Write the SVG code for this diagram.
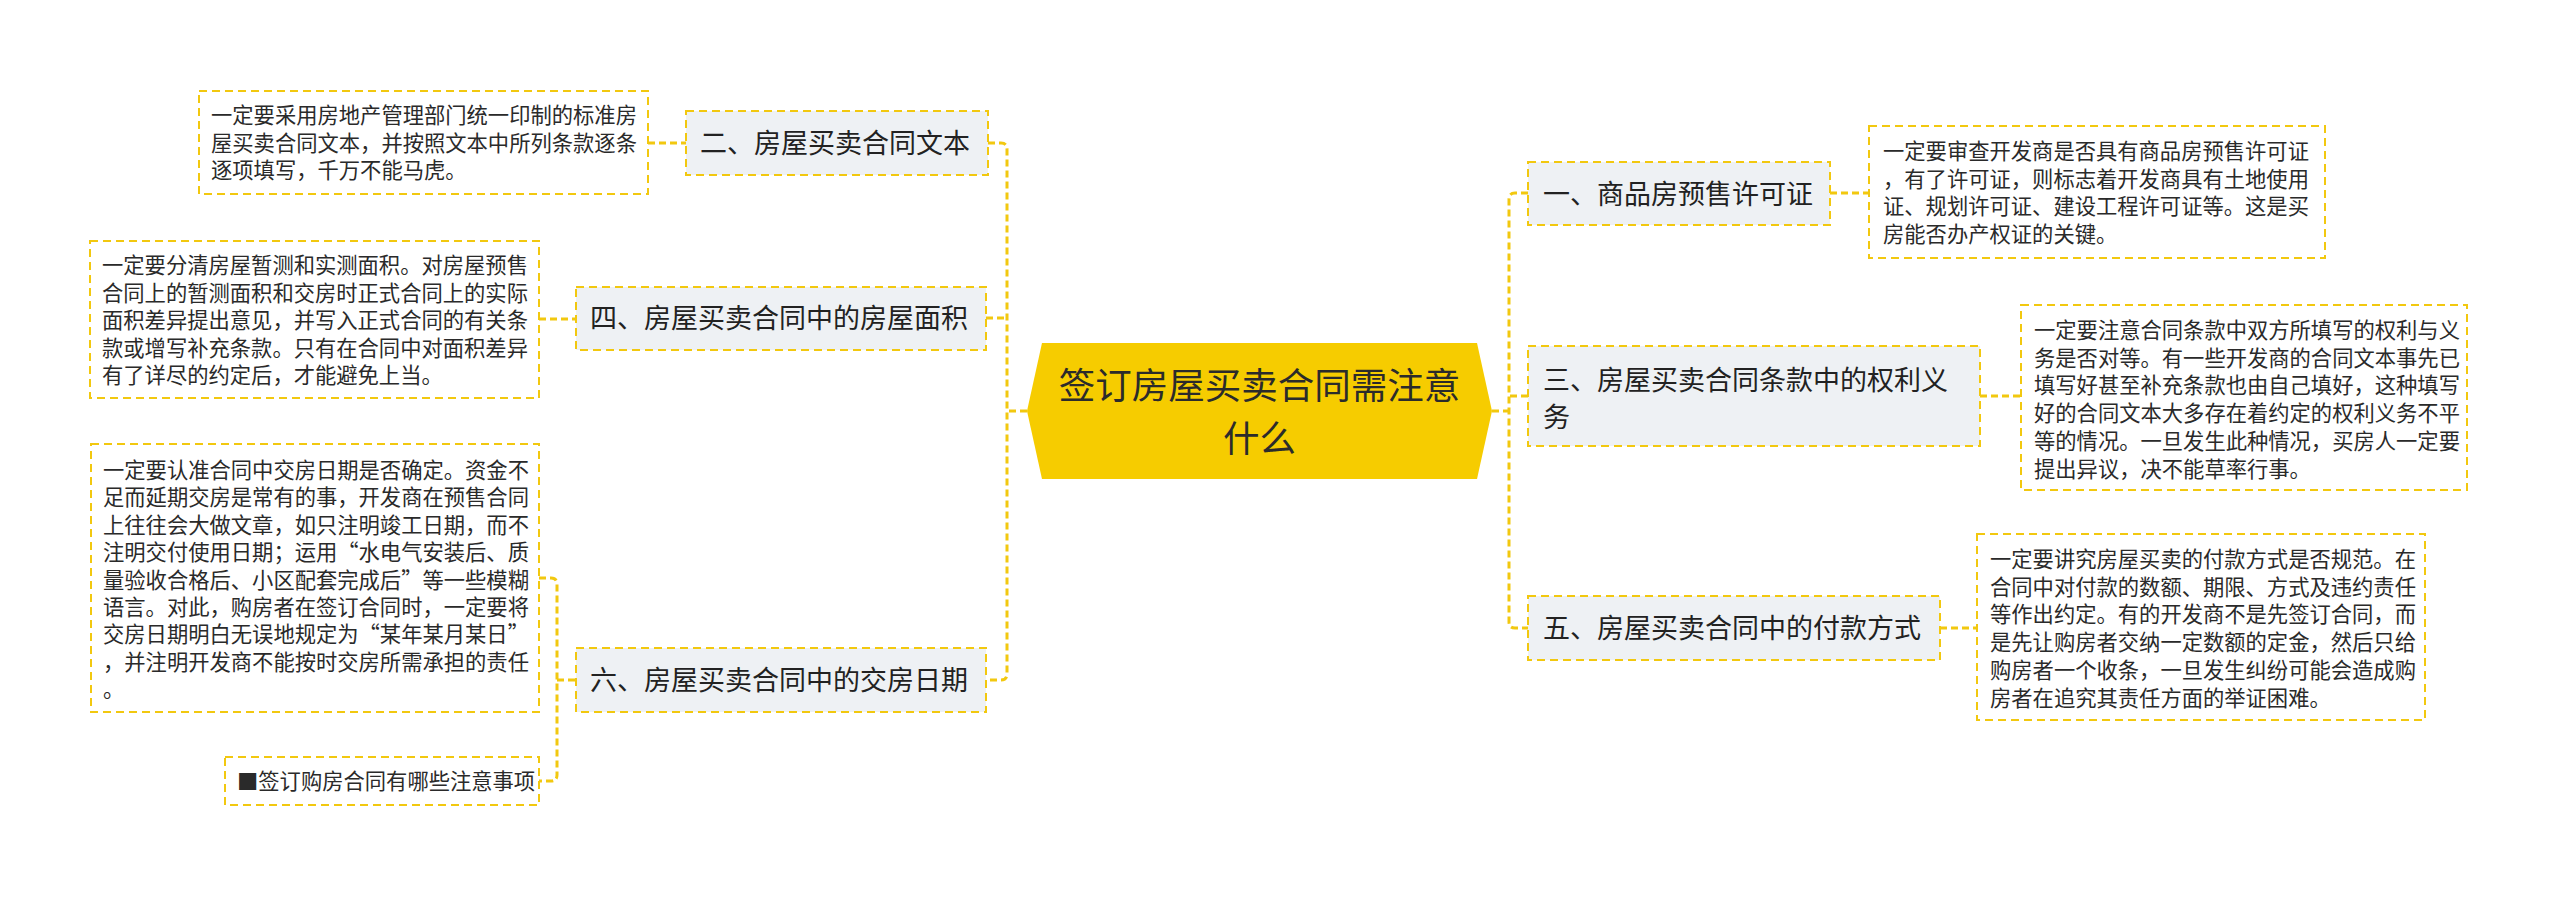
<svg xmlns="http://www.w3.org/2000/svg" width="2560" height="897" viewBox="0 0 2560 897">
<style>
.conn{fill:none;stroke:#f2c80f;stroke-width:3;stroke-dasharray:7 4}
.node rect{fill:#eef1f4;stroke:#f2c80f;stroke-width:2;stroke-dasharray:8 5}
.leaf rect{fill:#ffffff;stroke:#f2c80f;stroke-width:2;stroke-dasharray:8 5}
.nt{font-family:"Noto Sans CJK SC","Noto Sans",sans-serif;font-size:27px;fill:#222}
.lt{font-family:"Noto Sans CJK SC","Noto Sans",sans-serif;font-size:21.3px;fill:#2a2a2a}
.ct{font-family:"Noto Sans CJK SC","Noto Sans",sans-serif;font-size:36.5px;fill:#2b2b2b;text-anchor:middle}
</style>
<rect width="2560" height="897" fill="#ffffff"/>
<g id="connectors">
<path class="conn" d="M1027 411 H1007"/>
<path class="conn" d="M988 143 H1001 Q1007 143 1007 149 V674 Q1007 680 1001 680 H988"/>
<path class="conn" d="M986 318 H1007"/>
<path class="conn" d="M1492 411 H1509"/>
<path class="conn" d="M1528 193 H1515 Q1509 193 1509 199 V622 Q1509 628 1515 628 H1528"/>
<path class="conn" d="M1528 396 H1509"/>
<path class="conn" d="M648 143 H686"/>
<path class="conn" d="M539 319 H576"/>
<path class="conn" d="M539 578 H551 Q557 578 557 584 V775 Q557 781 551 781 H539"/>
<path class="conn" d="M557 680 H576"/>
<path class="conn" d="M1830 193 H1869"/>
<path class="conn" d="M1980 396 H2021"/>
<path class="conn" d="M1940 628 H1977"/>
</g>
<g id="center">
<polygon points="1027,411 1042,343 1477,343 1492,411 1477,479 1042,479" fill="#f6cc00"/>
<text class="ct" x="1259.5" y="399">签订房屋买卖合同需注意</text>
<text class="ct" x="1259.5" y="452">什么</text>
</g>
<g id="node-2" class="node">
<rect x="686" y="111" width="302" height="64"/>
<text class="nt" x="700" y="153">二、房屋买卖合同文本</text>
</g>
<g id="leaf-2" class="leaf">
<rect x="199" y="91" width="449" height="103"/>
<text class="lt" x="211" y="123">一定要采用房地产管理部门统一印制的标准房</text>
<text class="lt" x="211" y="150.5">屋买卖合同文本，并按照文本中所列条款逐条</text>
<text class="lt" x="211" y="178">逐项填写，千万不能马虎。</text>
</g>
<g id="node-4" class="node">
<rect x="576" y="287" width="410" height="63"/>
<text class="nt" x="590" y="328">四、房屋买卖合同中的房屋面积</text>
</g>
<g id="leaf-4" class="leaf">
<rect x="90" y="241" width="449" height="157"/>
<text class="lt" x="102" y="273">一定要分清房屋暂测和实测面积。对房屋预售</text>
<text class="lt" x="102" y="300.5">合同上的暂测面积和交房时正式合同上的实际</text>
<text class="lt" x="102" y="328">面积差异提出意见，并写入正式合同的有关条</text>
<text class="lt" x="102" y="355.5">款或增写补充条款。只有在合同中对面积差异</text>
<text class="lt" x="102" y="383">有了详尽的约定后，才能避免上当。</text>
</g>
<g id="node-6" class="node">
<rect x="576" y="648" width="410" height="64"/>
<text class="nt" x="590" y="690">六、房屋买卖合同中的交房日期</text>
</g>
<g id="leaf-6" class="leaf">
<rect x="91" y="444" width="448" height="268"/>
<text class="lt" x="103" y="478">一定要认准合同中交房日期是否确定。资金不</text>
<text class="lt" x="103" y="505.4">足而延期交房是常有的事，开发商在预售合同</text>
<text class="lt" x="103" y="532.8">上往往会大做文章，如只注明竣工日期，而不</text>
<text class="lt" x="103" y="560.2">注明交付使用日期；运用“水电气安装后、质</text>
<text class="lt" x="103" y="587.6">量验收合格后、小区配套完成后”等一些模糊</text>
<text class="lt" x="103" y="615">语言。对此，购房者在签订合同时，一定要将</text>
<text class="lt" x="103" y="642.4">交房日期明白无误地规定为“某年某月某日”</text>
<text class="lt" x="103" y="669.8">，并注明开发商不能按时交房所需承担的责任</text>
<text class="lt" x="103" y="697.2">。</text>
</g>
<g id="leaf-6b" class="leaf">
<rect x="225" y="757" width="314" height="48"/>
<text class="lt" x="237" y="789">■签订购房合同有哪些注意事项</text>
</g>
<g id="node-1" class="node">
<rect x="1528" y="162" width="302" height="63"/>
<text class="nt" x="1543" y="204">一、商品房预售许可证</text>
</g>
<g id="leaf-1" class="leaf">
<rect x="1869" y="126" width="456" height="132"/>
<text class="lt" x="1883" y="159">一定要审查开发商是否具有商品房预售许可证</text>
<text class="lt" x="1883" y="186.7">，有了许可证，则标志着开发商具有土地使用</text>
<text class="lt" x="1883" y="214.4">证、规划许可证、建设工程许可证等。这是买</text>
<text class="lt" x="1883" y="242.1">房能否办产权证的关键。</text>
</g>
<g id="node-3" class="node">
<rect x="1528" y="346" width="452" height="100"/>
<text class="nt" x="1543" y="390">三、房屋买卖合同条款中的权利义</text>
<text class="nt" x="1543" y="427">务</text>
</g>
<g id="leaf-3" class="leaf">
<rect x="2021" y="305" width="446" height="185"/>
<text class="lt" x="2034" y="338">一定要注意合同条款中双方所填写的权利与义</text>
<text class="lt" x="2034" y="365.7">务是否对等。有一些开发商的合同文本事先已</text>
<text class="lt" x="2034" y="393.4">填写好甚至补充条款也由自己填好，这种填写</text>
<text class="lt" x="2034" y="421.1">好的合同文本大多存在着约定的权利义务不平</text>
<text class="lt" x="2034" y="448.8">等的情况。一旦发生此种情况，买房人一定要</text>
<text class="lt" x="2034" y="476.5">提出异议，决不能草率行事。</text>
</g>
<g id="node-5" class="node">
<rect x="1528" y="596" width="412" height="64"/>
<text class="nt" x="1543" y="638">五、房屋买卖合同中的付款方式</text>
</g>
<g id="leaf-5" class="leaf">
<rect x="1977" y="534" width="448" height="186"/>
<text class="lt" x="1990" y="567">一定要讲究房屋买卖的付款方式是否规范。在</text>
<text class="lt" x="1990" y="594.7">合同中对付款的数额、期限、方式及违约责任</text>
<text class="lt" x="1990" y="622.4">等作出约定。有的开发商不是先签订合同，而</text>
<text class="lt" x="1990" y="650.1">是先让购房者交纳一定数额的定金，然后只给</text>
<text class="lt" x="1990" y="677.8">购房者一个收条，一旦发生纠纷可能会造成购</text>
<text class="lt" x="1990" y="705.5">房者在追究其责任方面的举证困难。</text>
</g>
</svg>
